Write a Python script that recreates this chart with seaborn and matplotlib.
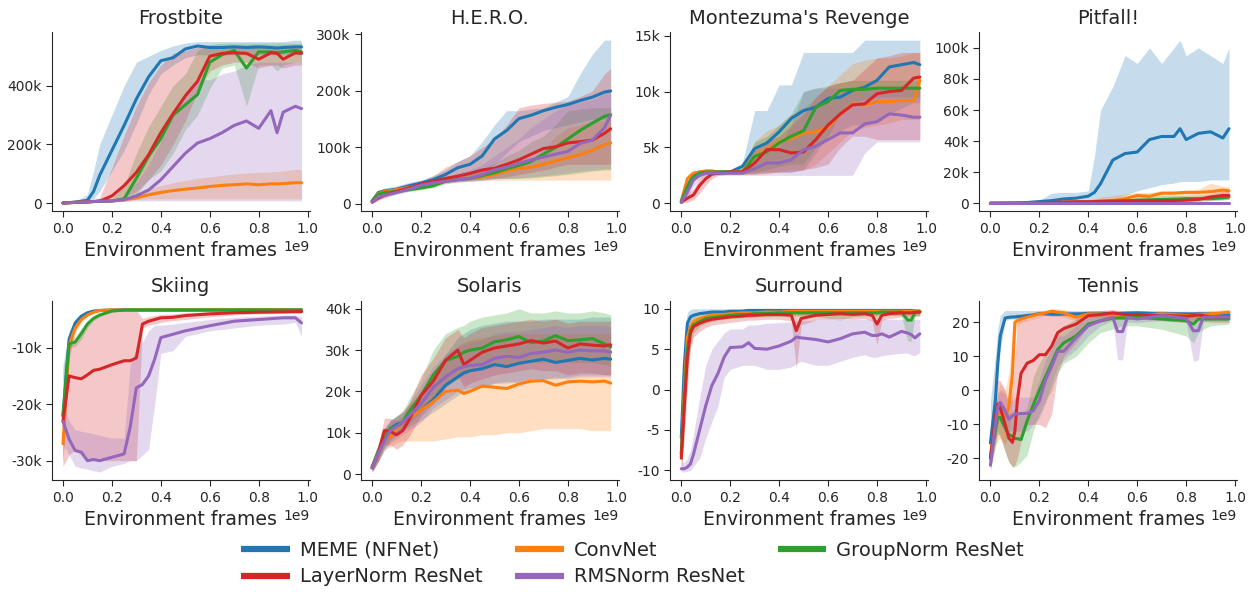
import matplotlib
matplotlib.use('Agg')
import matplotlib.pyplot as plt
import seaborn as sns
from matplotlib.lines import Line2D
from matplotlib.ticker import FuncFormatter

# order inside every per-game list: MEME, ConvNet, GroupNorm, LayerNorm, RMSNorm
methods = ['MEME (NFNet)', 'ConvNet', 'GroupNorm ResNet', 'LayerNorm ResNet', 'RMSNorm ResNet']
colors = ['#1f77b4', '#ff7f0e', '#2ca02c', '#d62728', '#9467bd']

# ---- Frostbite (score in k) ----
frostbite_x = [0, .05, .1, .125, .15, .2, .25, .3, .35, .4, .45, .5, .55, .6, .65, .7, .75, .8, .85, .875, .9, .95, .975]
frostbite_mean = [
    [1, 4, 10, 40, 95, 180, 265, 355, 430, 485, 495, 525, 535, 530, 530, 532, 530, 532, 530, 528, 530, 532, 532],
    [1, 3, 5, 6, 7, 8, 12, 18, 29, 37, 43, 48, 52, 57, 61, 63, 66, 63, 66, 66, 67, 70, 70],
    [1, 3, 5, 6, 7, 8, 15, 85, 160, 220, 300, 335, 370, 480, 505, 520, 460, 515, 515, 512, 515, 520, 515],
    [1, 3, 5, 6, 7, 25, 60, 105, 165, 240, 305, 365, 415, 500, 510, 512, 510, 490, 512, 510, 490, 512, 510],
    [1, 3, 5, 6, 7, 8, 12, 25, 45, 80, 125, 170, 205, 220, 240, 265, 280, 255, 315, 240, 310, 330, 322],
]
frostbite_lo = [
    [0, 2, 4, 15, 40, 110, 180, 270, 370, 440, 470, 495, 505, 505, 505, 505, 505, 505, 505, 505, 505, 505, 505],
    [0, 1, 2, 3, 4, 5, 8, 12, 15, 15, 15, 15, 15, 15, 15, 15, 15, 15, 15, 15, 15, 15, 15],
    [0, 1, 2, 3, 4, 5, 8, 30, 80, 110, 170, 250, 300, 390, 460, 470, 330, 470, 470, 450, 470, 480, 480],
    [0, 1, 2, 3, 4, 8, 20, 40, 80, 130, 200, 280, 380, 450, 470, 480, 480, 460, 470, 470, 460, 470, 470],
    [0, 1, 2, 3, 4, 5, 6, 8, 8, 8, 8, 8, 8, 8, 8, 8, 8, 8, 8, 8, 8, 8, 8],
]
frostbite_hi = [
    [2, 6, 30, 110, 200, 300, 400, 480, 500, 520, 535, 545, 550, 550, 550, 550, 550, 550, 550, 550, 550, 555, 555],
    [2, 5, 8, 9, 10, 12, 20, 35, 50, 60, 70, 78, 85, 90, 95, 100, 103, 105, 107, 108, 110, 115, 115],
    [2, 5, 8, 9, 10, 15, 60, 170, 260, 330, 400, 440, 520, 540, 545, 545, 545, 545, 545, 545, 545, 545, 545],
    [2, 5, 8, 10, 20, 120, 230, 330, 410, 470, 510, 520, 530, 535, 535, 535, 535, 535, 535, 535, 535, 535, 535],
    [2, 5, 8, 9, 10, 12, 25, 70, 130, 210, 300, 380, 420, 420, 440, 450, 470, 480, 480, 480, 480, 480, 480],
]

# ---- H.E.R.O. (score in k) ----
hero_x = [0, .025, .05, .1, .15, .2, .25, .3, .35, .4, .45, .5, .55, .6, .65, .7, .75, .8, .85, .9, .95, .975]
hero_mean = [
    [5, 20, 23, 26, 32, 37, 43, 52, 64, 70, 85, 115, 130, 151, 157, 165, 171, 176, 183, 189, 198, 200],
    [5, 18, 22, 25, 29, 33, 37, 40, 43, 45, 48, 52, 58, 63, 65, 70, 76, 82, 87, 95, 105, 108],
    [5, 17, 20, 22, 25, 28, 32, 40, 43, 45, 50, 55, 62, 68, 75, 88, 100, 115, 130, 143, 155, 158],
    [3, 10, 15, 22, 28, 35, 40, 45, 49, 54, 60, 63, 70, 78, 88, 98, 101, 108, 110, 113, 125, 133],
    [3, 12, 15, 20, 26, 33, 37, 40, 43, 45, 52, 60, 65, 72, 78, 83, 88, 93, 107, 113, 135, 157],
]
hero_lo = [
    [3, 15, 18, 22, 26, 30, 35, 40, 45, 50, 55, 70, 90, 110, 120, 130, 135, 140, 145, 150, 150, 150],
    [3, 15, 19, 22, 26, 30, 34, 38, 40, 41, 41, 42, 42, 42, 42, 42, 42, 42, 42, 42, 42, 42],
    [3, 14, 17, 19, 22, 25, 28, 36, 39, 40, 42, 45, 45, 45, 46, 48, 50, 52, 55, 58, 60, 60],
    [1, 6, 10, 18, 24, 30, 35, 38, 40, 42, 44, 45, 48, 52, 56, 60, 65, 70, 70, 70, 70, 70],
    [1, 8, 12, 17, 22, 28, 32, 36, 38, 40, 42, 44, 45, 46, 48, 50, 52, 55, 58, 60, 62, 62],
]
hero_hi = [
    [8, 24, 28, 32, 38, 42, 50, 60, 75, 85, 110, 140, 165, 165, 168, 170, 180, 190, 230, 265, 290, 290],
    [7, 21, 25, 28, 32, 36, 40, 45, 50, 55, 60, 65, 68, 72, 80, 95, 120, 135, 140, 145, 148, 150],
    [7, 20, 23, 25, 28, 31, 36, 45, 50, 55, 62, 72, 85, 95, 110, 120, 140, 165, 168, 170, 170, 170],
    [6, 14, 19, 26, 32, 40, 50, 65, 75, 85, 100, 115, 140, 170, 175, 178, 180, 182, 190, 200, 230, 240],
    [5, 16, 19, 23, 30, 38, 42, 48, 55, 60, 70, 85, 100, 115, 135, 150, 165, 175, 180, 185, 195, 200],
]

# ---- Montezuma's Revenge (score in k) ----
montezuma_x = [0, .025, .05, .075, .1, .125, .15, .2, .25, .3, .35, .4, .45, .5, .55, .6, .65, .7, .75, .8, .85, .9, .95, .975]
montezuma_mean = [
    [0.1, 1.5, 2.5, 2.7, 2.8, 2.8, 2.8, 2.8, 3.3, 4.9, 5.4, 6.4, 7.6, 8.3, 8.6, 9.4, 9.5, 10.1, 10.4, 11.0, 12.2, 12.4, 12.6, 12.4],
    [0.2, 2.2, 2.7, 2.8, 2.9, 2.9, 2.8, 2.8, 2.9, 4.2, 4.8, 5.5, 5.8, 6.3, 6.4, 6.8, 8.0, 8.9, 8.8, 9.1, 9.1, 9.2, 9.2, 11.0],
    [0.2, 1.5, 2.4, 2.7, 2.8, 2.8, 2.8, 2.8, 2.8, 4.2, 4.6, 5.4, 6.0, 6.5, 8.6, 9.1, 10.1, 10.2, 10.2, 10.3, 10.3, 10.3, 10.3, 10.3],
    [0.1, 0.45, 0.75, 1.6, 2.2, 2.6, 2.7, 2.8, 2.8, 3.6, 4.8, 4.8, 4.5, 4.6, 5.7, 7.0, 8.0, 8.8, 8.9, 9.8, 10.0, 10.1, 11.2, 11.3],
    [0.1, 1.0, 2.1, 2.5, 2.7, 2.7, 2.7, 2.7, 2.7, 3.1, 3.6, 3.6, 3.9, 4.8, 5.1, 5.7, 6.3, 6.3, 7.1, 7.3, 8.0, 7.9, 7.7, 7.7],
]
montezuma_lo = [
    [0, 0.8, 2.0, 2.4, 2.6, 2.6, 2.6, 2.6, 2.7, 2.8, 2.8, 2.8, 2.8, 3.0, 4.5, 6.0, 6.5, 7.0, 7.0, 7.5, 8.0, 8.5, 9.0, 9.0],
    [0.1, 1.5, 2.4, 2.6, 2.7, 2.7, 2.6, 2.6, 2.6, 2.6, 2.7, 2.8, 3.0, 3.0, 3.5, 4.5, 5.5, 6.5, 6.8, 7.0, 7.2, 7.5, 7.5, 7.5],
    [0.1, 1.0, 2.0, 2.4, 2.6, 2.6, 2.6, 2.6, 2.6, 2.7, 3.0, 3.3, 3.5, 3.5, 5.0, 6.0, 8.0, 9.0, 9.3, 9.5, 9.5, 9.5, 9.5, 9.5],
    [0, 0.1, 0.3, 0.9, 1.6, 2.2, 2.5, 2.6, 2.6, 2.6, 2.7, 2.8, 2.8, 3.0, 3.2, 3.5, 5.0, 6.0, 6.0, 5.7, 5.7, 5.7, 5.7, 5.7],
    [0, 0.5, 1.5, 2.2, 2.5, 2.5, 2.5, 2.5, 2.5, 2.5, 2.5, 2.5, 2.5, 2.5, 2.5, 2.5, 2.5, 2.5, 4.5, 5.5, 5.5, 5.5, 5.5, 5.5],
]
montezuma_hi = [
    [0.3, 2.2, 2.9, 3.0, 3.0, 3.0, 3.0, 3.0, 3.6, 8.3, 8.3, 10.6, 10.6, 13.5, 13.5, 13.5, 13.5, 13.5, 14.6, 14.6, 14.6, 14.6, 14.6, 14.6],
    [0.4, 2.6, 2.9, 3.0, 3.0, 3.0, 3.0, 3.0, 3.2, 5.5, 6.5, 7.0, 8.0, 8.5, 9.5, 10.5, 11.5, 12.5, 12.8, 13.0, 13.0, 13.2, 13.5, 13.5],
    [0.3, 2.0, 2.8, 3.0, 3.0, 3.0, 3.0, 3.0, 3.0, 5.5, 6.0, 7.0, 8.0, 10.0, 10.3, 10.5, 10.8, 11.0, 11.0, 11.0, 11.0, 11.0, 11.0, 11.0],
    [0.2, 0.9, 1.3, 2.3, 2.7, 2.9, 2.9, 3.0, 3.0, 5.0, 5.5, 6.0, 7.0, 8.0, 9.5, 10.5, 10.8, 11.0, 12.0, 13.0, 13.2, 13.5, 13.5, 13.5],
    [0.2, 1.5, 2.6, 2.8, 2.9, 2.9, 2.9, 2.9, 2.9, 3.5, 4.5, 5.0, 7.0, 10.0, 10.3, 10.3, 10.3, 10.3, 10.3, 10.3, 10.3, 10.3, 10.3, 10.3],
]

# ---- Pitfall! (score in k) ----
pitfall_x = [0, .1, .15, .2, .25, .3, .35, .4, .425, .45, .5, .55, .6, .65, .7, .75, .775, .8, .85, .9, .95, .975]
pitfall_mean = [
    [0, 0.2, 0.5, 1.1, 1.7, 2.8, 3.3, 4.6, 7, 12.6, 27.8, 32, 33, 41, 43, 43, 48, 41, 45, 46, 42, 48],
    [0, 0.2, 0.3, 0.4, 0.5, 0.7, 0.8, 1.0, 1.2, 1.5, 1.7, 3.0, 5.0, 4.5, 6.5, 6.5, 6.8, 7.0, 7.0, 7.5, 8.5, 8.0],
    [0, 0, 0, 0.1, 0.1, 0.2, 0.3, 0.5, 0.6, 0.8, 1.0, 1.5, 2.0, 2.2, 2.5, 2.7, 2.8, 3.0, 3.0, 3.0, 3.5, 4.0],
    [0, 0, 0.1, 0.3, 0.5, 0.8, 1.0, 1.0, 1.1, 1.2, 1.5, 1.5, 1.5, 1.6, 1.7, 1.8, 1.9, 2.0, 2.5, 4.0, 5.0, 5.0],
    [0.1, 0.1, 0.1, 0.1, 0.1, 0.1, 0.1, 0.1, 0.1, 0.1, 0.1, 0.1, 0.1, 0.1, 0.1, 0.1, 0.1, 0.1, 0.1, 0.1, 0.1, 0.1],
]
pitfall_lo = [
    [0, 0, 0, 0, 0, 0, 0, 0, 0, 0.5, 2, 5, 8, 10, 12, 13, 14, 14, 14, 15, 15, 15],
    [0, 0, 0, 0, 0, 0, 0, 0, 0, 0, 0, 1, 2, 3, 4, 4, 4, 4.5, 4.5, 5, 5, 5],
    [0, 0, 0, 0, 0, 0, 0, 0.1, 0.2, 0.3, 0.4, 0.6, 0.8, 1, 1.2, 1.4, 1.5, 1.6, 1.6, 1.6, 2, 2.5],
    [0, 0, 0, 0.1, 0.2, 0.4, 0.5, 0.5, 0.5, 0.6, 0.7, 0.7, 0.7, 0.8, 0.8, 0.9, 0.9, 1, 1.2, 2, 2.5, 2.5],
    [0, 0, 0, 0, 0, 0, 0, 0, 0, 0, 0, 0, 0, 0, 0, 0, 0, 0, 0, 0, 0, 0],
]
pitfall_hi = [
    [0.5, 0.5, 1, 2, 6.5, 7, 7, 8, 30, 60, 75, 95, 90, 100, 90, 100, 105, 95, 100, 95, 90, 100],
    [0, 0.4, 0.5, 0.7, 0.8, 1.2, 1.5, 2, 3, 4, 5, 6, 7, 7, 8, 8, 8, 8.5, 9, 13, 11, 11],
    [0, 0, 0.1, 0.3, 0.4, 0.5, 0.7, 1, 1.2, 1.5, 2, 3, 4, 4.5, 4.8, 5, 5, 5, 5.5, 5.5, 6, 6.5],
    [0, 0.1, 0.2, 0.5, 0.8, 1.2, 1.5, 1.6, 1.8, 2, 2.5, 2.5, 2.5, 2.6, 2.8, 3, 3, 3.2, 4, 6, 8, 8],
    [0.3, 0.3, 0.3, 0.3, 0.3, 0.3, 0.3, 0.3, 0.3, 0.3, 0.3, 0.3, 0.3, 0.3, 0.3, 0.3, 0.3, 0.3, 0.3, 0.3, 0.3, 0.3],
]

# ---- Skiing (score in k) ----
skiing_x = [0, .025, .05, .075, .1, .125, .15, .2, .25, .275, .3, .325, .35, .375, .4, .45, .5, .6, .7, .8, .9, .95, .975]
skiing_mean = [
    [-22.1, -8.5, -5.6, -4.4, -3.8, -3.5, -3.4, -3.3, -3.3, -3.3, -3.3, -3.3, -3.3, -3.3, -3.3, -3.3, -3.3, -3.3, -3.3, -3.3, -3.3, -3.3, -3.3],
    [-27, -9.5, -6.5, -5, -4.2, -3.7, -3.4, -3.3, -3.3, -3.3, -3.3, -3.3, -3.3, -3.3, -3.3, -3.3, -3.3, -3.3, -3.3, -3.3, -3.3, -3.3, -3.3],
    [-22, -9.3, -9.0, -7.5, -5.8, -4.8, -4.2, -3.5, -3.3, -3.3, -3.3, -3.3, -3.3, -3.3, -3.3, -3.3, -3.3, -3.3, -3.3, -3.3, -3.3, -3.3, -3.3],
    [-23, -15.0, -15.3, -15.5, -14.8, -14.0, -13.8, -13.0, -12.3, -12.3, -11.8, -5.8, -5.3, -5.0, -4.7, -4.6, -4.3, -4.0, -3.8, -3.7, -3.65, -3.6, -3.6],
    [-23, -26.2, -28.2, -28.5, -30, -29.8, -30, -29.4, -28.8, -24, -17.1, -16.5, -15, -12, -8.2, -7.6, -7.0, -6.1, -5.3, -5.0, -4.7, -4.7, -5.6],
]
skiing_lo = [
    [-30, -12, -7, -5, -4.2, -3.8, -3.6, -3.5, -3.5, -3.5, -3.5, -3.5, -3.5, -3.5, -3.5, -3.5, -3.5, -3.5, -3.5, -3.5, -3.5, -3.5, -3.5],
    [-31, -11, -7.5, -5.5, -4.5, -4, -3.6, -3.5, -3.5, -3.5, -3.5, -3.5, -3.5, -3.5, -3.5, -3.5, -3.5, -3.5, -3.5, -3.5, -3.5, -3.5, -3.5],
    [-30, -10, -9.8, -8.5, -6.5, -5.2, -4.5, -3.7, -3.5, -3.5, -3.5, -3.5, -3.5, -3.5, -3.5, -3.5, -3.5, -3.5, -3.5, -3.5, -3.5, -3.5, -3.5],
    [-31, -29, -28, -29, -29.5, -30, -30, -30, -30, -30, -30, -6.5, -6, -5.8, -5.5, -5.2, -5, -4.5, -4.2, -4, -3.9, -3.9, -3.9],
    [-27, -29, -31, -31.3, -31.5, -31.8, -32, -31, -30.5, -30, -30, -29, -28, -20, -11, -10.5, -8, -7, -6.5, -6, -5.8, -5.5, -8],
]
skiing_hi = [
    [-13, -7, -5, -4, -3.5, -3.3, -3.2, -3.1, -3.1, -3.1, -3.1, -3.1, -3.1, -3.1, -3.1, -3.1, -3.1, -3.1, -3.1, -3.1, -3.1, -3.1, -3.1],
    [-23, -8, -5.5, -4.5, -3.9, -3.5, -3.3, -3.1, -3.1, -3.1, -3.1, -3.1, -3.1, -3.1, -3.1, -3.1, -3.1, -3.1, -3.1, -3.1, -3.1, -3.1, -3.1],
    [-14, -8.5, -8, -6.5, -5.2, -4.3, -3.9, -3.3, -3.1, -3.1, -3.1, -3.1, -3.1, -3.1, -3.1, -3.1, -3.1, -3.1, -3.1, -3.1, -3.1, -3.1, -3.1],
    [-20, -9.5, -9.2, -7.8, -6, -5, -4.3, -3.6, -3.4, -3.4, -3.4, -4.8, -4.5, -4.3, -4.1, -4, -3.8, -3.6, -3.5, -3.4, -3.3, -3.3, -3.3],
    [-20, -23, -24.5, -24.8, -25, -25.2, -25.5, -26, -26, -13, -10, -9, -7, -6, -6, -5.8, -5.5, -5, -4.6, -4.4, -4.2, -4.2, -4.5],
]

# ---- Solaris (score in k) ----
solaris_x = [0, .025, .05, .075, .1, .125, .15, .2, .25, .3, .35, .375, .4, .45, .5, .55, .6, .65, .7, .75, .8, .85, .9, .95, .975]
solaris_mean = [
    [1.5, 5, 8.5, 11, 12, 12.5, 14, 15.5, 18, 21.5, 23.5, 24.5, 25, 25.5, 26.5, 26, 26.8, 27.3, 27.8, 27, 27.5, 28, 27.6, 28, 27.8],
    [1.5, 5, 8.5, 9, 11, 12.5, 13.5, 15.5, 17.5, 20, 20.3, 19.5, 20, 21.3, 21, 20.7, 21.8, 22.5, 22.6, 21.5, 22.3, 22.5, 22.3, 22.5, 22],
    [1.8, 5.5, 8.5, 11, 11.5, 12.5, 15, 19, 24, 27.5, 28.5, 29.5, 30, 30.5, 32, 32.5, 33.3, 31.8, 32.2, 33.5, 32.3, 32.5, 32.8, 31.5, 30.8],
    [1.5, 5, 10.5, 10.3, 9.5, 10.5, 13, 19, 22.5, 27.5, 30, 26.5, 27.5, 29.5, 30.5, 31, 31.5, 32.3, 31.7, 32.2, 30.5, 31.5, 31.2, 31, 31.3],
    [1.5, 5, 8, 10.5, 11.5, 12.5, 14, 17, 21, 23.5, 25.5, 26, 26.3, 26.5, 28, 28.5, 28.2, 29.2, 29.5, 30, 29.5, 30, 29.8, 29.8, 29.5],
]
solaris_lo = [
    [0.5, 3, 6, 8, 9.5, 10.5, 11.5, 13, 15, 17, 19, 20, 20.5, 21, 22, 22, 22.5, 23, 23, 23, 23.5, 24, 24, 24, 24],
    [0.5, 3, 6, 6.5, 7.5, 8, 8, 8, 8, 8.5, 9, 9, 9, 9.5, 9.5, 10, 10, 10.5, 11, 11, 11, 11, 10.5, 10.5, 10.5],
    [0.8, 3.5, 6.5, 8.5, 9.5, 10.5, 12, 15, 18, 21, 23, 24, 25, 25.5, 26, 26.5, 27, 27, 27, 27.5, 27, 27, 27, 26.5, 26],
    [0.5, 3, 7, 7, 6, 7, 9, 14, 17, 21, 24, 21, 22, 23, 24, 24.5, 25, 25.5, 25, 25, 24, 24.5, 24.5, 24, 24],
    [0.5, 3, 5.5, 7.5, 8.5, 9.5, 10.5, 12.5, 16, 18, 20, 20.5, 21, 21, 22, 22.5, 22, 23, 23, 23.5, 23, 23.5, 23.5, 23.5, 23.5],
]
solaris_hi = [
    [3, 7, 11, 13, 14, 15, 16.5, 19, 24, 29, 33, 34, 35, 36, 36.5, 37, 37, 37, 37.5, 37.5, 37.5, 37.5, 38, 38, 38],
    [3, 7, 11, 12, 14, 15.5, 17, 20, 24, 28, 31, 32, 32.5, 33, 33.5, 34, 34, 34, 34, 34, 34, 34, 34, 34, 34],
    [3, 7.5, 11, 13, 14, 15, 18, 23, 30, 34, 35.5, 36, 37, 38, 38.5, 39, 40, 39, 39, 39.5, 39, 39, 39.5, 39, 38.5],
    [3, 7, 13.5, 13.5, 13, 14, 17, 24, 28, 33, 35, 33, 34, 35.5, 36, 36.5, 37, 37.5, 37, 37.5, 36.5, 37, 37, 37, 37],
    [3, 7, 10.5, 13, 14, 15, 17, 21.5, 26, 29, 31, 31.5, 32, 32.5, 34, 34.5, 34.5, 35, 35.5, 36, 35.5, 36, 36, 36, 35.5],
]

# ---- Surround (raw score) ----
surround_x = [0, .0125, .025, .0375, .05, .075, .1, .125, .15, .175, .2, .25, .275, .3, .35, .4, .45, .47, .49, .55,
              .6, .65, .7, .75, .78, .8, .82, .85, .9, .925, .94, .955, .975]
surround_mean = [
    [-6, 3, 8.2, 9.0, 9.2, 9.4, 9.5, 9.6, 9.6, 9.6, 9.7, 9.7, 9.8, 9.8, 9.8, 9.8, 9.8, 9.8, 9.8, 9.8,
     9.8, 9.8, 9.8, 9.8, 9.8, 9.8, 9.8, 9.8, 9.8, 9.8, 9.8, 9.7, 9.7],
    [-8, 0, 6.5, 7.8, 8.3, 8.8, 9.0, 9.2, 9.3, 9.3, 9.4, 9.5, 9.5, 9.5, 9.6, 9.6, 9.7, 9.7, 9.7, 9.7,
     9.7, 9.7, 9.7, 9.7, 9.7, 9.7, 9.7, 9.7, 9.7, 9.7, 9.7, 9.7, 9.7],
    [-8, -1, 5, 7.3, 8.0, 8.4, 8.8, 8.9, 9.0, 9.1, 9.2, 9.3, 9.3, 9.4, 9.4, 9.5, 9.5, 9.5, 9.5, 9.5,
     9.5, 9.5, 9.5, 9.5, 9.5, 9.5, 9.6, 9.6, 9.6, 8.6, 8.6, 9.5, 9.6],
    [-8.5, -2, 4, 7.0, 7.8, 8.2, 8.5, 8.7, 8.8, 8.9, 9.0, 9.1, 9.2, 9.2, 9.3, 9.3, 9.2, 7.3, 8.8, 9.2,
     9.3, 9.4, 9.3, 9.4, 9.2, 8.1, 9.2, 9.4, 9.5, 9.5, 9.5, 9.6, 9.6],
    [-9.8, -9.8, -9.6, -9.2, -8, -5, -2, 0.5, 2, 4, 5.2, 5.3, 5.8, 5.1, 5.0, 5.4, 6.0, 6.5, 6.4, 6.2,
     5.9, 6.3, 6.9, 7.1, 6.7, 6.7, 6.9, 6.5, 7.2, 7.0, 6.8, 6.4, 6.9],
]
surround_lo = [
    [-9, -1, 6.5, 8.5, 8.9, 9.2, 9.3, 9.4, 9.4, 9.4, 9.5, 9.5, 9.6, 9.6, 9.6, 9.6, 9.6, 9.6, 9.6, 9.6,
     9.6, 9.6, 9.6, 9.6, 9.6, 9.6, 9.6, 9.6, 9.6, 9.6, 9.6, 9.6, 9.6],
    [-10, -4, 4, 7, 7.6, 8.2, 8.5, 8.7, 8.8, 8.8, 8.9, 9, 9, 9, 9.1, 9.1, 9.2, 9.2, 9.2, 9.2,
     9.2, 9.2, 9.2, 9.2, 9.2, 9.2, 9.2, 9.2, 9.2, 9.2, 9.2, 9.2, 9.2],
    [-10, -5, 2, 5.5, 7, 7.8, 8.2, 8.4, 8.6, 8.7, 8.8, 8.9, 8.9, 9, 9, 9.1, 9.1, 9.1, 9.1, 9.1,
     8.8, 8.6, 9, 9.1, 9.1, 9.1, 9.2, 9.2, 9.2, 6, 6, 9, 9.2],
    [-10, -6, 0, 5, 6.5, 7.2, 7.7, 8, 8.1, 8.2, 8.3, 8.5, 8.6, 8.6, 8.7, 8.7, 8.5, 2.6, 8, 8.6,
     8.7, 8.8, 8.7, 8.8, 8.5, 5.5, 8.6, 8.8, 9, 9, 9, 9.1, 9.1],
    [-10.2, -10.2, -10.1, -10, -9.5, -8.5, -6, -4, -2, 1.5, 2.5, 3, 3, 3, 2.5, 2.5, 2.8, 3.2, 3.5, 3,
     3, 3.5, 4, 4.3, 4, 4, 4.2, 4.3, 4.5, 4.5, 4.3, 4.2, 4.6],
]
surround_hi = [
    [-3, 7, 9.6, 9.9, 10, 10, 10, 10, 10, 10, 10, 10, 10, 10, 10, 10, 10, 10, 10, 10,
     10, 10, 10, 10, 10, 10, 10, 10, 10, 10, 10, 10, 10],
    [-6, 4, 8.5, 9, 9.3, 9.5, 9.6, 9.7, 9.8, 9.8, 9.9, 9.9, 10, 10, 10, 10, 10, 10, 10, 10,
     10, 10, 10, 10, 10, 10, 10, 10, 10, 10, 10, 10, 10],
    [-6, 3, 7.5, 8.5, 9, 9.2, 9.4, 9.5, 9.6, 9.6, 9.7, 9.7, 9.9, 9.9, 9.9, 9.9, 9.9, 9.9, 9.9, 9.9,
     9.9, 9.9, 9.9, 9.9, 9.9, 9.9, 9.9, 9.9, 9.9, 9.9, 9.9, 9.9, 9.9],
    [-7, 2, 7, 8.5, 8.8, 9, 9.2, 9.3, 9.4, 9.4, 9.5, 9.6, 9.6, 9.6, 9.7, 9.7, 9.7, 9.3, 9.5, 9.7,
     9.7, 9.8, 9.7, 9.8, 9.7, 9.5, 9.7, 9.8, 9.9, 9.9, 9.9, 9.9, 9.9],
    [-9, -9, -8.5, -7.5, -5.5, -1, 3, 5, 6, 7, 7.5, 7.5, 8, 8, 8.2, 8.3, 8.4, 8.5, 8.5, 8.6,
     8.7, 8.7, 8.7, 8.7, 8.7, 8.7, 8.7, 8.7, 8.7, 8.7, 8.7, 8.7, 8.7],
]

# ---- Tennis (raw score) ----
tennis_x = [0, .02, .03, .04, .06, .075, .09, .1, .11, .125, .15, .175, .2, .225, .25, .275, .3, .35, .4, .45,
            .5, .52, .54, .56, .6, .7, .8, .83, .85, .87, .9, .975]
tennis_mean = [
    [-15.5, -3, 8, 16, 21.3, 21.5, 21.6, 21.6, 21.7, 21.8, 22, 22.2, 22.6, 22.5, 22.4, 22.4, 22.5, 22.5, 22.6, 22.6,
     22.6, 22.6, 22.6, 22.7, 22.8, 22.5, 22.5, 22.5, 22.5, 22.5, 22.5, 22.3],
    [-19, -10, -8, -6, -8, -5, 5, 20, 20.5, 21, 21.5, 22, 22.5, 22.8, 23.3, 23, 22.8, 21.5, 22.5, 22.5,
     22, 22, 22, 22, 22, 22.5, 22, 22, 22.3, 22.3, 22.5, 23],
    [-20, -12, -8, -8, -11, -13, -13.5, -14.2, -14.2, -14.5, -9, -4.3, 0, 4, 8, 12, 14, 16, 19.5, 20.5,
     21.2, 21.3, 21.3, 21.3, 21.5, 21, 20.5, 19.5, 21, 21, 21, 21],
    [-20, -8, -4, -5, -10, -14, -15.3, -12, -3, 5, 8, 8.8, 10.5, 10.5, 13, 17, 18.2, 19.5, 22, 22.3,
     22.8, 22.6, 22.4, 22.3, 22.3, 22, 21.8, 22, 22.2, 22, 21.6, 21.7],
    [-22, -10, -5, -3.5, -6, -8.5, -7.5, -7, -6.9, -6.8, -6.8, -6, -3, 3, 7, 11.5, 11.5, 15.5, 19, 20.5,
     21.5, 17.3, 17.3, 21.5, 21, 22, 21.2, 17.5, 17.6, 21.5, 21.6, 21.6],
]
tennis_lo = [
    [-18, -8, 3, 12, 20.5, 20.8, 21, 21, 21, 21.2, 21.4, 21.6, 22, 22, 21.8, 21.8, 22, 22, 22, 22,
     22, 22, 22, 22, 22, 21.8, 21.8, 21.8, 21.8, 21.8, 21.8, 21.6],
    [-23, -16, -15, -14, -16, -13, -3, 15, 19, 20, 20.5, 21, 21.5, 22, 22.5, 22, 21.5, 20.5, 21.5, 21.5,
     21, 21, 21, 21, 21, 21.5, 21, 21, 21.3, 21.3, 21.5, 22],
    [-23, -17, -13, -13, -18, -21, -22.5, -22.5, -22, -21, -19, -12, -7, -3, 0, 5, 8, 10, 14, 17,
     18, 18.5, 19, 19, 19, 18, 16, 14, 17, 18, 19, 19.5],
    [-23, -15, -12, -14, -18, -21, -22.5, -22, -20, -15, -10, -10, -10, -11, -7, 5, 10, 14, 19, 20,
     21, 21, 21, 21, 21, 20.5, 20, 20.5, 20.5, 20.5, 20, 20],
    [-24, -15, -9, -7, -10, -12, -12, -12, -12, -12, -12, -10, -8, -4, 2, 7, 9, 12, 16, 19,
     20.5, 9, 9, 20, 20, 20.5, 20, 8.5, 9, 20, 20.5, 20.5],
]
tennis_hi = [
    [-3, 10, 18, 22, 23.5, 23.5, 23.5, 23.5, 23.5, 23.5, 23.5, 23.5, 23.5, 23.5, 23.5, 23.5, 23.5, 23.5, 23.5, 23.5,
     23.5, 23.5, 23.5, 23.5, 23.5, 23.3, 23.3, 23.3, 23.3, 23.3, 23.3, 23.2],
    [-15, -4, -1, 2, 0, 5, 18, 22.5, 22.5, 22.5, 23, 23, 23.5, 23.5, 24, 24, 23.8, 23, 23.5, 23.5,
     23, 23, 23, 23, 23, 23.5, 23, 23, 23.3, 23.3, 23.5, 23.8],
    [-17, -6, -3, -3, -5, -7, -6, -5, -6, -7, -5, 4, 8, 11, 14, 17, 19, 21, 22.5, 23,
     23, 23, 23, 23, 23, 22.5, 22, 22, 22.5, 22.5, 22.5, 22.5],
    [-17, -2, 3, 3, 0, -4, 0, 10, 20, 21, 21, 21.5, 22, 22, 22.5, 23, 23, 23, 23.3, 23.5,
     23.8, 23.5, 23.5, 23.5, 23.5, 23.3, 23, 23, 23.3, 23, 23, 23],
    [-20, -5, -1, 0, -1, -3, -3, -2, -2, -2, -2, -2, 3, 9, 12, 16, 16, 19, 21.5, 22.5,
     22.5, 22, 22, 22.5, 22.5, 23, 22.5, 22, 22, 22.5, 22.5, 22.5],
]

titles = ['Frostbite', 'H.E.R.O.', "Montezuma's Revenge", 'Pitfall!', 'Skiing', 'Solaris', 'Surround', 'Tennis']
yticks = [[0, 200, 400], [0, 100, 200, 300], [0, 5, 10, 15], [0, 20, 40, 60, 80, 100],
          [-30, -20, -10], [0, 10, 20, 30, 40], [-10, -5, 0, 5, 10], [-20, -10, 0, 10, 20]]
in_thousands = [True, True, True, True, True, True, False, False]

panels = [
    (frostbite_x, frostbite_mean, frostbite_lo, frostbite_hi),
    (hero_x, hero_mean, hero_lo, hero_hi),
    (montezuma_x, montezuma_mean, montezuma_lo, montezuma_hi),
    (pitfall_x, pitfall_mean, pitfall_lo, pitfall_hi),
    (skiing_x, skiing_mean, skiing_lo, skiing_hi),
    (solaris_x, solaris_mean, solaris_lo, solaris_hi),
    (surround_x, surround_mean, surround_lo, surround_hi),
    (tennis_x, tennis_mean, tennis_lo, tennis_hi),
]

k_fmt = FuncFormatter(lambda v, p: '0' if v == 0 else f'{v:g}k')
plain_fmt = FuncFormatter(lambda v, p: f'{v:g}')

sns.set_style('ticks')
plt.rcParams['font.family'] = ['DejaVu Sans']

fig, axes = plt.subplots(2, 4, figsize=(12.55, 5.92), dpi=100)
fig.subplots_adjust(left=0.0414, right=0.9857, top=0.946, bottom=0.189, wspace=0.2, hspace=0.497)

for i, ax in enumerate(axes.flat):
    x, mean, lo, hi = panels[i]
    frames = [v * 1e9 for v in x]
    for m in range(5):
        ax.fill_between(frames, lo[m], hi[m], color=colors[m], alpha=0.25, lw=0)
    for m in range(5):
        sns.lineplot(x=frames, y=mean[m], color=colors[m], lw=2.2, ax=ax)
    ax.set_title(titles[i], fontsize=14)
    ax.set_xlabel('Environment frames', fontsize=13.6)
    ax.set_xlim(-0.045e9, 1.008e9)
    ax.set_xticks([0, 0.2e9, 0.4e9, 0.6e9, 0.8e9, 1.0e9])
    ax.set_yticks(yticks[i])
    ax.yaxis.set_major_formatter(k_fmt if in_thousands[i] else plain_fmt)
    ax.tick_params(labelsize=10, length=4)
    ax.xaxis.get_offset_text().set_fontsize(10)

sns.despine(fig)

handles = [Line2D([], [], color=c, lw=4.5, solid_capstyle='butt') for c in colors]
# legend fills column-wise, so reorder to get MEME/ConvNet/GroupNorm on the first row
order = [0, 3, 1, 4, 2]
fig.legend([handles[j] for j in order], [methods[j] for j in order], loc='lower center',
           bbox_to_anchor=(0.504, -0.02), ncol=3, frameon=False, fontsize=14,
           handlelength=2.5, handletextpad=0.5, columnspacing=1.7, labelspacing=0.4)

fig.savefig('out.png', dpi=100)
